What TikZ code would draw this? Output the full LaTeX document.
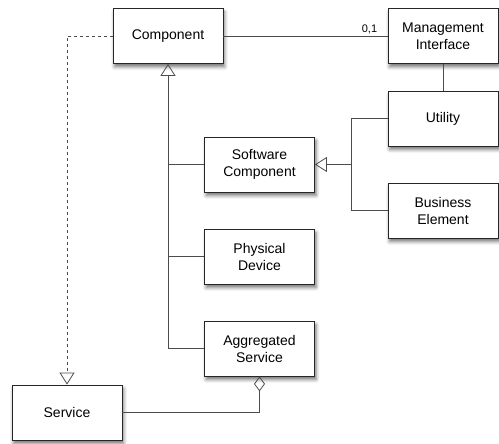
\documentclass[tikz,border=0pt]{standalone}
\usepackage{fontspec}
\setmainfont{Liberation Sans}
\usetikzlibrary{arrows.meta,shadows.blur}

\tikzset{
  x=1pt, y=-1pt,
  umlbox/.style={draw=black!85, fill=white, line width=0.8pt,
    minimum width=110pt, minimum height=55pt, inner sep=2pt,
    align=center, font=\fontsize{14}{17}\selectfont,
    blur shadow={shadow xshift=1.5pt, shadow yshift=-3.5pt,
      shadow blur radius=3.5pt, shadow opacity=55}},
  link/.style={draw=black!70, line width=0.9pt},
  gen/.style={link, -{Triangle[open, width=15pt, length=12pt, line width=0.8pt]}},
  agg/.style={link, {Diamond[open, width=11pt, length=15pt, line width=0.8pt]}-},
  mult/.style={font=\fontsize{11}{13}\selectfont, inner sep=1pt}
}

\begin{document}
\begin{tikzpicture}
  \useasboundingbox (0,0) rectangle (499,444);

  % classes
  \node[umlbox] (comp) at (168,36)    {Component};
  \node[umlbox] (mi)   at (443,36)    {Management\\Interface};
  \node[umlbox] (util) at (443,118.5) {Utility};
  \node[umlbox] (bel)  at (443,210.5) {Business\\Element};
  \node[umlbox] (sc)   at (259.5,164.5) {Software\\Component};
  \node[umlbox] (pd)   at (259.5,256.5) {Physical\\Device};
  \node[umlbox] (as)   at (259.5,348.5) {Aggregated\\Service};
  \node[umlbox] (svc)  at (67,412.5)  {Service};

  % association Component -- Management Interface
  \draw[link] (comp.east) -- (mi.west)
    node[mult, pos=1, above left, xshift=-9pt, yshift=1pt] {0,1};
  \draw[link] (mi.south) -- (util.north);

  % generalisation towards Component
  \draw[gen] (as.west) -| (comp.south);
  \draw[link] (sc.west) -- (sc.west -| comp.south);
  \draw[link] (pd.west) -- (pd.west -| comp.south);

  % generalisation towards Software Component
  \coordinate (sj) at (351,164.5);
  \draw[gen] (sj) -- (sc.east);
  \draw[link] (util.west) -| (sj);
  \draw[link] (bel.west) -| (sj);

  % realisation Component -> Service
  \draw[gen, dashed] (comp.west) -| (svc.north);

  % aggregation Aggregated Service <>-- Service
  \draw[agg] (as.south) |- (svc.east);
\end{tikzpicture}
\end{document}
